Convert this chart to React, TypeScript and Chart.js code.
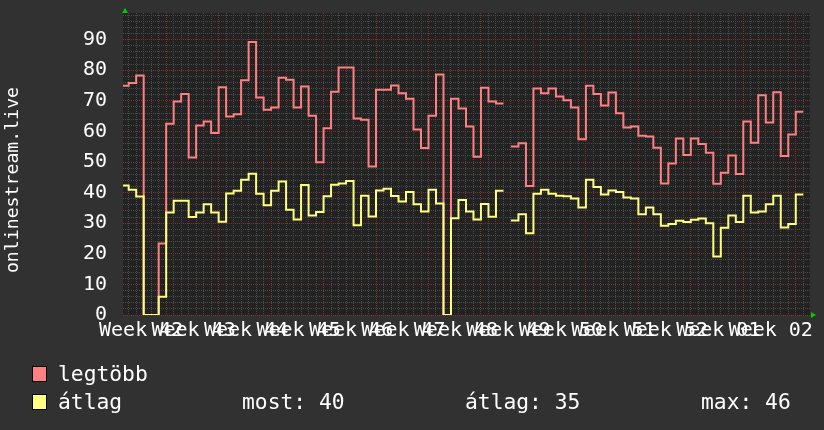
import React, { useEffect, useRef } from 'react';
import { Chart, registerables } from 'chart.js';

Chart.register(...registerables);

// Week boundaries (day index) and their labels
const weekBoundaries = [6, 13, 20, 27, 34, 41, 48, 55, 62, 69, 76, 83, 90];
const weekLabels = ['Week 42', 'Week 43', 'Week 44', 'Week 45', 'Week 46', 'Week 47', 'Week 48', 'Week 49', 'Week 50', 'Week 51', 'Week 52', 'Week 01', 'Week 02'];
const yTicks = [0, 10, 20, 30, 40, 50, 60, 70, 80, 90];

// Daily values; index 0 is the partial first day
const maxValues: (number | null)[] = [
  74.9, 75.8, 78.3, 0, 0, 23.4, 62.5, 69.8, 72.2, 51.5, 61.9, 63.2, 59.5, 74.4, 64.9, 65.6, 76.7, 89.2, 71.1,
  67.1, 67.8, 77.5, 76.9, 67.8, 74.7, 65.1, 49.9, 61.0, 73.0, 80.9, 80.9, 64.2, 63.8, 48.5, 73.6, 73.6, 75.0,
  72.5, 70.7, 60.6, 54.6, 65.1, 78.6, 0, 70.7, 67.5, 61.6, 51.7, 74.3, 69.8, 69.1, null, 55.1, 56.1, 42.2, 74.0,
  72.5, 74.0, 71.4, 70.2, 67.8, 57.4, 74.9, 72.2, 68.5, 72.7, 65.9, 61.3, 61.6, 58.6, 58.3, 54.7, 43.0, 49.5,
  57.7, 52.3, 57.7, 55.9, 53.0, 42.9, 46.5, 52.1, 46.1, 63.2, 56.3, 71.8, 62.9, 72.8, 52.0, 59.0, 66.4,
];
const avgValues: (number | null)[] = [
  42.3, 40.9, 38.7, 0, 0, 6.0, 33.5, 37.3, 37.3, 32.0, 33.5, 36.2, 33.5, 30.5, 39.7, 40.6, 44.2, 46.2, 39.6,
  35.9, 40.6, 43.6, 34.4, 31.2, 42.5, 32.5, 33.7, 38.8, 42.6, 43.0, 43.8, 29.3, 39.0, 32.2, 40.7, 41.3, 38.9,
  37.1, 40.2, 36.2, 33.8, 40.9, 36.4, 0, 31.6, 37.6, 33.8, 31.2, 36.3, 32.1, 40.6, null, 30.9, 32.9, 26.7, 39.6,
  40.9, 39.6, 39.0, 38.8, 38.1, 35.1, 44.2, 41.8, 39.4, 40.7, 40.2, 38.4, 38.1, 32.9, 35.1, 32.9, 29.2, 29.7,
  30.8, 30.4, 31.1, 31.5, 30.0, 19.1, 28.5, 32.5, 30.4, 39.0, 33.5, 33.8, 36.2, 39.0, 28.6, 29.7, 39.4,
];

const seriesNames = ['legtöbb', 'átlag'];
const seriesColors = ['#ff8080', '#ffff80'];
const statLabels = ['most:', 'átlag:', 'max:'];
const statValues = [40, 35, 46];
const yTitle = 'onlinestream.live';

const X_MIN = 0.24;
const X_MAX = 91.9;
const Y_MIN = 0;
const Y_MAX = 98.7;

const MONO = '"DejaVu Sans Mono", monospace';

function stepPoints(vals: (number | null)[]) {
  const pts: { x: number; y: number | null }[] = [];
  vals.forEach((v, i) => {
    if (v === null) {
      pts.push({ x: i + 0.5, y: null });
      return;
    }
    pts.push({ x: i, y: v });
    pts.push({ x: i + 1, y: v });
  });
  return pts;
}

const minorX: number[] = [];
for (let d = 1; d <= 91; d++) if (!weekBoundaries.includes(d)) minorX.push(d);
const minorY: number[] = [];
for (let v = 2; v < Y_MAX; v += 2) if (v % 10 !== 0) minorY.push(v);

const bgPlugin = {
  id: 'rrdBg',
  beforeDraw(chart: any) {
    const { ctx, chartArea } = chart;
    const { left, top, right, bottom } = chartArea;
    ctx.save();
    ctx.fillStyle = '#313131';
    ctx.fillRect(0, 0, chart.width, chart.height);
    ctx.fillStyle = '#222222';
    ctx.fillRect(left, top, right - left, bottom - top);
    ctx.restore();
  },
  afterDraw(chart: any) {
    const { ctx, chartArea } = chart;
    const { left, top, right, bottom } = chartArea;
    ctx.save();
    ctx.fillStyle = '#00cc00';
    ctx.beginPath();
    ctx.moveTo(left - 1, top);
    ctx.lineTo(left + 5, top);
    ctx.lineTo(left + 2, top - 5);
    ctx.closePath();
    ctx.fill();
    ctx.beginPath();
    ctx.moveTo(right + 1, bottom - 3);
    ctx.lineTo(right + 1, bottom + 3);
    ctx.lineTo(right + 6, bottom);
    ctx.closePath();
    ctx.fill();
    ctx.restore();
  },
};

function ChartView() {
  const ref = useRef<HTMLCanvasElement | null>(null);
  useEffect(() => {
    if (!ref.current) return;
    const minorGrid = { color: '#4a4a4a', lineWidth: 1, drawTicks: false };
    const majorGrid = { color: '#7a3434', lineWidth: 1, drawTicks: false };
    const chart = new Chart(ref.current, {
      type: 'line',
      data: {
        datasets: [
          {
            label: seriesNames[0],
            data: stepPoints(maxValues) as any,
            borderColor: seriesColors[0],
            borderWidth: 2,
            pointRadius: 0,
            tension: 0,
            spanGaps: false,
            fill: false,
            order: 2,
            xAxisID: 'x',
            yAxisID: 'y',
            borderJoinStyle: 'miter',
          },
          {
            label: seriesNames[1],
            data: stepPoints(avgValues) as any,
            borderColor: seriesColors[1],
            borderWidth: 2,
            pointRadius: 0,
            tension: 0,
            spanGaps: false,
            fill: false,
            order: 1,
            xAxisID: 'x',
            yAxisID: 'y',
            borderJoinStyle: 'miter',
          },
        ],
      },
      options: {
        responsive: false,
        animation: false,
        events: [],
        layout: { padding: { top: 13, right: 14, left: 0, bottom: 0 } },
        plugins: { legend: { display: false }, tooltip: { enabled: false }, title: { display: false } },
        scales: {
          xMinor: {
            type: 'linear',
            position: 'bottom',
            min: X_MIN,
            max: X_MAX,
            z: -1,
            grid: minorGrid,
            border: { display: false, dash: [1, 1] },
            ticks: { display: false },
            afterBuildTicks: (s: any) => { s.ticks = minorX.map((v) => ({ value: v })); },
            afterFit: (s: any) => { s.height = 0; s.paddingLeft = 0; s.paddingRight = 0; },
          },
          yMinor: {
            type: 'linear',
            position: 'left',
            min: Y_MIN,
            max: Y_MAX,
            z: -1,
            grid: minorGrid,
            border: { display: false, dash: [1, 1] },
            ticks: { display: false },
            afterBuildTicks: (s: any) => { s.ticks = minorY.map((v) => ({ value: v })); },
            afterFit: (s: any) => { s.width = 0; s.paddingTop = 0; s.paddingBottom = 0; },
          },
          x: {
            type: 'linear',
            position: 'bottom',
            min: X_MIN,
            max: X_MAX,
            z: 0,
            grid: majorGrid,
            border: { display: false, dash: [1, 1] },
            ticks: {
              autoSkip: false,
              maxRotation: 0,
              minRotation: 0,
              labelOffset: -25,
              padding: 4,
              color: '#ffffff',
              font: { family: MONO, size: 20 },
              callback: (_v: any, i: number) => weekLabels[i],
            },
            afterBuildTicks: (s: any) => { s.ticks = weekBoundaries.map((v) => ({ value: v })); },
            afterFit: (s: any) => { s.height = 115; s.paddingLeft = 0; s.paddingRight = 0; },
          },
          y: {
            type: 'linear',
            position: 'left',
            min: Y_MIN,
            max: Y_MAX,
            z: 0,
            grid: majorGrid,
            border: { display: false, dash: [1, 1] },
            ticks: {
              padding: 16,
              color: '#ffffff',
              font: { family: MONO, size: 20 },
              callback: (v: any) => String(v),
            },
            afterBuildTicks: (s: any) => { s.ticks = yTicks.map((v) => ({ value: v })); },
            afterFit: (s: any) => { s.width = 123; s.paddingTop = 0; s.paddingBottom = 0; },
          },
        },
      } as any,
      plugins: [bgPlugin],
    });
    return () => chart.destroy();
  }, []);
  return <canvas ref={ref} width={824} height={430} style={{ position: 'absolute', left: 0, top: 0, width: 824, height: 430 }} />;
}

export default function App() {
  const legendFont: React.CSSProperties = {
    position: 'absolute',
    fontFamily: MONO,
    fontSize: 21.3,
    lineHeight: '24px',
    color: '#ffffff',
    whiteSpace: 'pre',
  };
  const rowTop = [362, 390];
  const statLeft = [242, 465, 701];
  return (
    <div style={{ position: 'fixed', left: 0, top: 0, width: 824, height: 430, background: '#313131', overflow: 'hidden' }}>
      <ChartView />
      <div
        style={{
          position: 'absolute',
          left: 12,
          top: 180,
          transform: 'translate(-50%, -50%) rotate(-90deg)',
          fontFamily: MONO,
          fontSize: 18.2,
          lineHeight: '22px',
          color: '#ffffff',
          whiteSpace: 'pre',
        }}
      >
        {yTitle}
      </div>
      {seriesNames.map((name, i) => (
        <React.Fragment key={name}>
          <div
            style={{
              position: 'absolute',
              left: 32,
              top: rowTop[i] + 4,
              width: 13,
              height: 14,
              background: seriesColors[i],
              border: '1px solid #000',
            }}
          />
          <div style={{ ...legendFont, left: 58, top: rowTop[i] }}>{name}</div>
        </React.Fragment>
      ))}
      {statLabels.map((l, i) => (
        <div key={l} style={{ ...legendFont, left: statLeft[i], top: rowTop[1] }}>
          {l + ' ' + statValues[i]}
        </div>
      ))}
    </div>
  );
}
